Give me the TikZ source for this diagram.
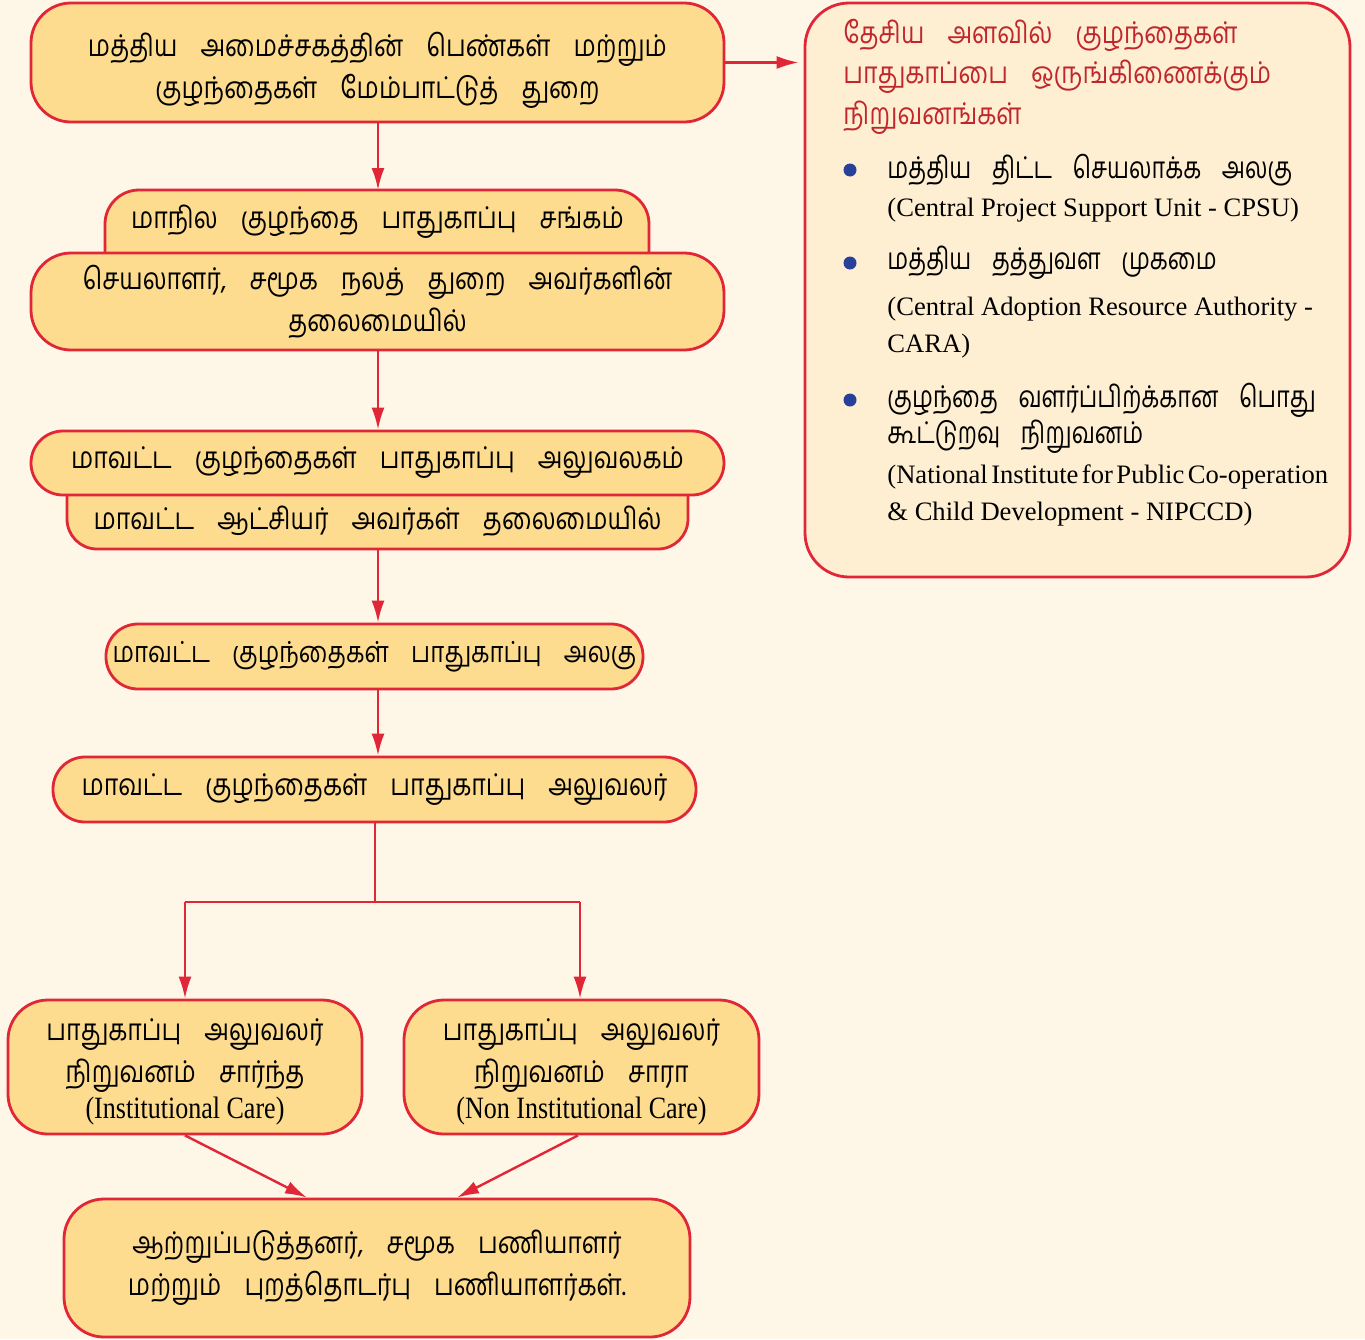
\documentclass[tikz,border=0pt]{standalone}
\usepackage{fontspec}
\setmainfont{Liberation Serif}
\newfontfamily\ta[Script=Tamil,WordSpace=3.8,FakeStretch=0.83]{Hind Madurai}
\newfontfamily\tb[Script=Tamil,WordSpace=3.6,FakeStretch=0.78]{Hind Madurai}
\newfontfamily\ennarrow[FakeStretch=0.84]{Liberation Serif}
\usetikzlibrary{arrows.meta}
\pgfdeclarelayer{bg}
\pgfsetlayers{bg,main}
\definecolor{bgcol}{HTML}{FEF6E6}
\definecolor{boxfill}{HTML}{FDDC8F}
\definecolor{rightfill}{HTML}{FEEFD2}
\definecolor{boxred}{HTML}{E02637}
\definecolor{titlered}{HTML}{C0272D}
\definecolor{bulblue}{HTML}{27409A}
\begin{document}
\begin{tikzpicture}[x=0.5pt,y=-0.5pt,
  tafont/.style={font=\ta\fontsize{15}{21}\selectfont},
  box/.style={draw=boxred, line width=1.4pt, fill=boxfill, rounded corners=20pt,
    align=center, inner sep=0pt, tafont, text=black},
  pill/.style={box, rounded corners=16pt},
  boxshape/.style={draw=boxred, line width=1.4pt, fill=boxfill},
  txt/.style={inner sep=0pt, align=center, tafont},
  arr/.style={draw=boxred, line width=1.2pt, -{Latex[length=11pt,width=6.5pt]}},
  ln/.style={draw=boxred, line width=1.2pt},
  ttl/.style={anchor=west, inner sep=0pt, font=\ta\fontsize{15}{21}\selectfont, text=titlered},
  itm/.style={anchor=west, inner sep=0pt, font=\tb\fontsize{15}{21}\selectfont},
  eitm/.style={anchor=west, inner sep=0pt, font=\fontsize{13.3}{16}\selectfont},
  bul/.style={circle, fill=bulblue, inner sep=0pt, minimum size=6.5pt}
]
\begin{pgfonlayer}{bg}
\fill[bgcol] (0,0) rectangle (1365,1339);
\end{pgfonlayer}
\useasboundingbox (0,0) rectangle (1365,1339);

% top box
\node[box, minimum width=346.5pt, minimum height=59.5pt] (box1) at (377.5,62.5) {};
\node[txt] (box1t) at ([yshift=-4pt]box1.center)
  {மத்திய அமைச்சகத்தின் பெண்கள் மற்றும்\\குழந்தைகள் மேம்பாட்டுத் துறை};

% state society (top part only visible)
\node[txt] (state) at (377.5,222) {மாநில குழந்தை பாதுகாப்பு சங்கம்};
\coordinate (statetop) at (377.5,190);
\begin{pgfonlayer}{bg}
\filldraw[boxshape, rounded corners=17pt] (105,300) -- (105,190) -- (649,190) -- (649,300);
\end{pgfonlayer}

\node[box, minimum width=346.5pt, minimum height=48.5pt] (box3) at (377.5,301.5)
  {செயலாளர், சமூக நலத் துறை அவர்களின்\\தலைமையில்};

% district office
\node[pill, minimum width=346.5pt, minimum height=32pt] (box4) at (377.5,463)
  {மாவட்ட குழந்தைகள் பாதுகாப்பு அலுவலகம்};
\node[txt] (collector) at (377.5,521) {மாவட்ட ஆட்சியர் அவர்கள் தலைமையில்};
\coordinate (colbot) at (377.5,549);
\begin{pgfonlayer}{bg}
\filldraw[boxshape, rounded corners=15pt] (67,470) -- (67,549) -- (688,549) -- (688,470);
\end{pgfonlayer}

\node[pill, minimum width=268.5pt, minimum height=32.5pt, font=\ta\fontsize{14.5}{21}\selectfont] (box6) at (374.5,656.5)
  {மாவட்ட குழந்தைகள் பாதுகாப்பு அலகு};
\node[pill, minimum width=321.5pt, minimum height=32.5pt] (box7) at (374.5,789.5)
  {மாவட்ட குழந்தைகள் பாதுகாப்பு அலுவலர்};

\node[box, minimum width=177pt, minimum height=67pt] (box8) at (185,1067) {};
\node[txt] (box8t) at ([yshift=-2.5pt]box8.center)
  {பாதுகாப்பு அலுவலர்\\நிறுவனம் சார்ந்த\\[-3pt]{\ennarrow\fontsize{15.5}{18}\selectfont (Institutional Care)}};
\node[box, minimum width=177.5pt, minimum height=67pt] (box9) at (581.5,1067) {};
\node[txt] (box9t) at ([yshift=-2.5pt]box9.center)
  {பாதுகாப்பு அலுவலர்\\நிறுவனம் சாரா\\[-3pt]{\ennarrow\fontsize{15.5}{18}\selectfont (Non Institutional Care)}};
\node[box, minimum width=313pt, minimum height=69pt] (box10) at (377,1268)
  {ஆற்றுப்படுத்தனர், சமூக பணியாளர்\\மற்றும் புறத்தொடர்பு பணியாளர்கள்.};

% right box
\node[draw=boxred, fill=rightfill, line width=1.4pt, rounded corners=22pt,
  minimum width=272.5pt, minimum height=287pt, inner sep=0pt] (right) at (1077.5,290) {};
\node[ttl] (t1) at (843,35) {தேசிய அளவில் குழந்தைகள்};
\node[ttl] (t2) at (843,77) {பாதுகாப்பை ஒருங்கிணைக்கும்};
\node[ttl] (t3) at (843,118) {நிறுவனங்கள்};
\node[bul] (b1) at (850,170) {};
\node[bul] (b2) at (850,263) {};
\node[bul] (b3) at (850,400) {};
\node[itm] (i1a) at (887,170) {மத்திய திட்ட செயலாக்க அலகு};
\node[eitm] (i1b) at (887,210) {(Central Project Support Unit - CPSU)};
\node[itm] (i2a) at (887,263) {மத்திய தத்துவள முகமை};
\node[eitm] (i2b) at (887,309) {(Central Adoption Resource Authority -};
\node[eitm] (i2c) at (887,346) {CARA)};
\node[itm] (i3a) at (887,400) {குழந்தை வளர்ப்பிற்க்கான பொது};
\node[itm] (i3b) at (887,437) {கூட்டுறவு நிறுவனம்};
\node[eitm] (i3c) at (887,477) {\spaceskip=0.13em (National Institute for Public Co-operation};
\node[eitm] (i3d) at (887,514) {\& Child Development - NIPCCD)};

% connectors
\coordinate (axis) at (378,0);
\draw[arr] (box1.south -| axis) -- (statetop -| axis);
\draw[arr] (box3.south -| axis) -- (box4.north -| axis);
\draw[arr] (colbot -| axis) -- (box6.north -| axis);
\draw[arr] (box6.south -| axis) -- (box7.north -| axis);
\coordinate (j) at (375,902);
\coordinate (jl) at (185,902);
\coordinate (jr) at (580,902);
\draw[ln] (box7.south -| j) -- (j);
\draw[ln] (jl) -- (jr);
\draw[arr] (jl) -- (jl |- box8.north);
\draw[arr] (jr) -- (jr |- box9.north);
\draw[arr] (box8.south) -- ([xshift=-35pt]box10.north);
\draw[arr] ([xshift=-1.75pt]box9.south) -- ([xshift=40pt]box10.north);
\draw[arr] (box1.east) -- ([xshift=-2.5pt]right.west |- box1.east);
\end{tikzpicture}
\end{document}
